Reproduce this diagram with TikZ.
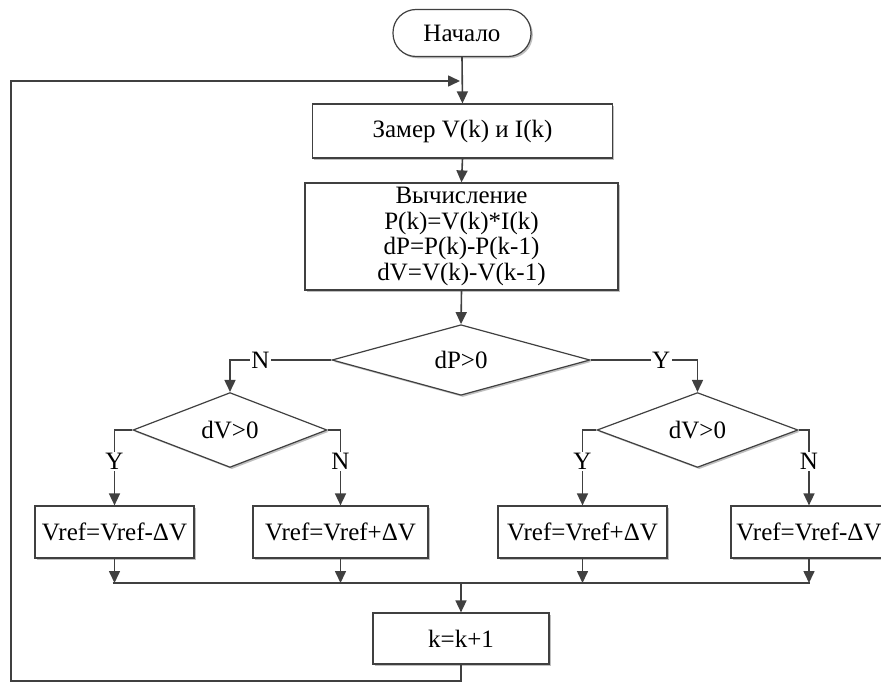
\documentclass[tikz,border=0pt]{standalone}
\usepackage{fontspec}
\setmainfont{Liberation Serif}
\usetikzlibrary{shapes.geometric,arrows.meta,shadows}
\definecolor{ln}{HTML}{404040}
\tikzset{
  every node/.style={font=\fontsize{25}{25.5}\selectfont, text=black},
  sh/.style={drop shadow={shadow xshift=1.8pt, shadow yshift=-1.8pt, fill=black!25, opacity=1}},
  procbox/.style={draw=ln, line width=1.2pt, fill=white, rectangle, sh, inner sep=0pt, align=center},
  term/.style={draw=ln, line width=1.2pt, fill=white, rectangle, rounded corners=23pt, sh, minimum width=138pt, minimum height=47pt},
  decis/.style={draw=ln, line width=1.2pt, fill=white, diamond, sh, inner sep=0pt},
  conn/.style={draw=ln, line width=1.6pt},
  arr/.style={conn, -{Triangle[length=12pt,width=11pt]}},
  lbl/.style={fill=white, inner sep=1.5pt}
}
\begin{document}
\begin{tikzpicture}[x=1pt,y=-1pt]
\useasboundingbox (0,0) rectangle (881,682);
\node[term] (start) at (462,33) {Начало};
\node[procbox, minimum width=300pt, minimum height=54pt] (m1) at (462.5,131) {Замер V(k) и I(k)};
\node[procbox, minimum width=313pt, minimum height=107pt] (m2) at (461.5,236.5) {Вычисление\\P(k)=V(k)*I(k)\\dP=P(k)-P(k-1)\\dV=V(k)-V(k-1)};
\node[decis, minimum width=258pt, minimum height=70pt] (d1) at (461,360) {dP>0};
\node[decis, minimum width=194pt, minimum height=70pt] (d2) at (230,430) {dV>0};
\node[decis, minimum width=201pt, minimum height=70pt] (d3) at (697.5,430) {dV>0};
\node[procbox, minimum width=159pt, minimum height=52pt] (b1) at (114.5,532) {Vref=Vref-ΔV};
\node[procbox, minimum width=175pt, minimum height=52pt] (b2) at (340.5,532) {Vref=Vref+ΔV};
\node[procbox, minimum width=169pt, minimum height=52pt] (b3) at (582.5,532) {Vref=Vref+ΔV};
\node[procbox, minimum width=156pt, minimum height=52pt] (b4) at (809,532) {Vref=Vref-ΔV};
\node[procbox, minimum width=176pt, minimum height=51pt] (kk) at (461,638.5) {k=k+1};
\coordinate (mrg) at (461,583);
\coordinate (lb) at (11,681);
\coordinate (lt) at (11,81);
\coordinate (lj) at (461,81);
% main flow
\draw[arr] (start.south) -- (m1.north);
\draw[arr] (m1.south) -- (m2.north);
\draw[arr] (m2.south) -- (d1.north);
\draw[arr] (d1.west) -| node[lbl, pos=0.35] {N} (d2.north);
\draw[arr] (d1.east) -| node[lbl, pos=0.33] {Y} (d3.north);
\draw[arr] (d2.west) -| node[lbl, pos=0.71] {Y} (b1.north);
\draw[arr] (d2.east) -| node[lbl, pos=0.71] {N} (b2.north);
\draw[arr] (d3.west) -| node[lbl, pos=0.71] {Y} (b3.north);
\draw[arr] (d3.east) -| node[lbl, pos=0.71] {N} (b4.north);
% merge
\draw[arr] (b1.south) -- (b1.south |- mrg);
\draw[arr] (b2.south) -- (b2.south |- mrg);
\draw[arr] (b3.south) -- (b3.south |- mrg);
\draw[arr] (b4.south) -- (b4.south |- mrg);
\draw[conn] ([xshift=-2pt]b1.south |- mrg) -- ([xshift=1pt]b4.south |- mrg);
\draw[arr] (mrg) -- (kk.north);
% loop back
\draw[arr] (kk.south) |- (lb) -- (lt) -- ([xshift=-1pt]lj);
\end{tikzpicture}
\end{document}
